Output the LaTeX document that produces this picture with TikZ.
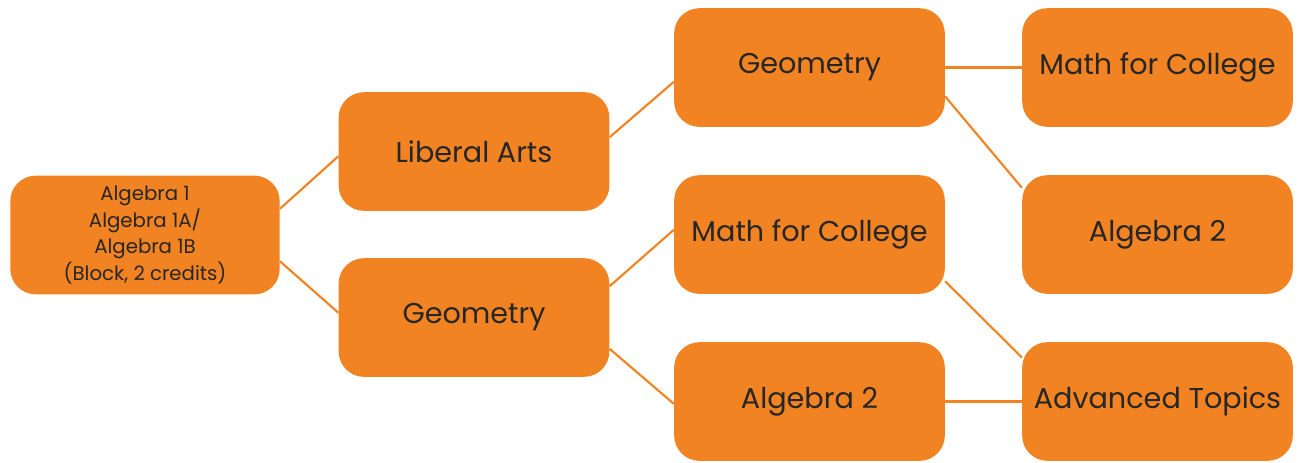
\documentclass[tikz,border=0pt]{standalone}
\usepackage{fontspec}
\setmainfont{Poppins}
\definecolor{pathorange}{HTML}{F28322}
\definecolor{pathtext}{HTML}{262626}
\begin{document}
\begin{tikzpicture}[x=0.75pt,y=-0.75pt,
				box/.style={rectangle, rounded corners=19pt, draw=none, fill=pathorange, text=pathtext,
					minimum width=203pt, minimum height=89pt, inner sep=0, font=\fontsize{21.5}{24}\selectfont, align=center},
				smallbox/.style={box, minimum width=202pt, font=\fontsize{14.8}{20}\selectfont}]
				\useasboundingbox (0,0) rectangle (1304,462);
				
				\node [smallbox] (root) at (145,235) {Algebra 1\\Algebra 1A/\\Algebra 1B\\(Block, 2 credits)};
				\node [box] (lib) at (474,151.5) {Liberal Arts};
				\node [box] (geo2) at (474,317.5) {Geometry};
				\node [box] (geo3) at (809.5,67.5) {Geometry};
				\node [box] (mfc3) at (809.5,234.5) {Math for College};
				\node [box] (alg3) at (809.5,401.5) {Algebra 2};
				\node [box] (mfc4) at (1157.5,67.5) {Math for College};
				\node [box] (alg4) at (1157.5,234.5) {Algebra 2};
				\node [box] (adv) at (1157.5,401.5) {Advanced Topics};
				\begin{scope}[draw=pathorange,line width=1.6pt]
				\draw (root.11.3) -- (lib.182.3);
				\draw (root.-11.3) -- (geo2.178.1);
				\draw (lib.6.9) -- (geo3.186.1);
				\draw (geo2.13.4) -- (mfc3.178.1);
				\draw (geo2.-13.4) -- (alg3.181.5);
				\draw (geo3.east) -- (mfc4.west);
				\draw (geo3.-12.7) -- (alg4.161);
				\draw (mfc3.-19.2) -- (adv.162);
				\draw (alg3.east) -- (adv.west);
				\end{scope}
				\end{tikzpicture}
\end{document}
